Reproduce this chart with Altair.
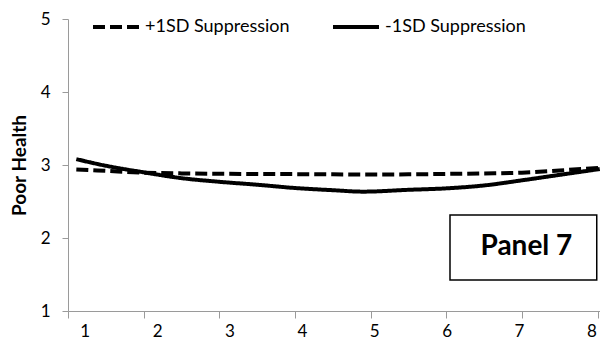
import altair as alt
import pandas as pd

# ---- data ----
x_vals = [1.11, 1.5, 2.0, 2.5, 3.0, 3.5, 4.0, 4.5, 4.9, 5.5, 6.0, 6.5, 7.0, 7.5, 8.03]
plus_sd = [2.94, 2.92, 2.895, 2.885, 2.88, 2.877, 2.875, 2.872, 2.87, 2.872, 2.878, 2.885, 2.895, 2.925, 2.962]
minus_sd = [3.08, 2.99, 2.90, 2.82, 2.77, 2.73, 2.685, 2.655, 2.635, 2.66, 2.68, 2.72, 2.79, 2.865, 2.945]
series_names = ["+1SD Suppression", "-1SD Suppression"]
x_ticks = [1, 2, 3, 4, 5, 6, 7, 8]
y_ticks = [1, 2, 3, 4, 5]
panel_label = "Panel 7"

rows = []
for name, vals in zip(series_names, [plus_sd, minus_sd]):
    for x, v in zip(x_vals, vals):
        rows.append({"x": x, "y": v, "series": name})
df = pd.DataFrame(rows)

FONT = "Lato"
GRAY = "#9a9a9a"

x_scale = alt.Scale(domain=[1, 8.033], nice=False, zero=False)
y_scale = alt.Scale(domain=[1, 5], nice=False, zero=False)

lines = alt.Chart(df).mark_line(
    interpolate="monotone", strokeWidth=4, color="black", strokeCap="butt"
).encode(
    x=alt.X("x:Q", scale=x_scale, axis=alt.Axis(
        values=x_ticks, title=None, grid=False, domainColor=GRAY, tickColor=GRAY,
        tickSize=7, labelFont=FONT, labelFontSize=17, labelColor="black",
        labelPadding=5, labelOffset=alt.ExprRef("16.7 - 3.27*(datum.value-1)"),
        labelFlush=False, format="d")),
    y=alt.Y("y:Q", scale=y_scale, axis=alt.Axis(
        values=y_ticks, title="Poor Health", grid=False, domainColor=GRAY,
        tickColor=GRAY, tickSize=6, labelFont=FONT, labelFontSize=17,
        labelColor="black", labelPadding=12, titleFont=FONT, titleFontSize=19,
        titleFontWeight="bold", titleColor="black", titlePadding=11, format="d")),
    strokeDash=alt.StrokeDash("series:N", scale=alt.Scale(
        domain=series_names, range=[[12, 5], [1, 0]]),
        legend=alt.Legend(
            title=None, orient="none", legendX=23, legendY=-17, direction="horizontal",
            symbolType="stroke", symbolSize=2116, symbolStrokeWidth=4,
            symbolStrokeColor="black", labelFont=FONT, labelFontSize=18,
            labelColor="black", labelOffset=4, columnPadding=35, padding=0)),
)

box_df = pd.DataFrame([{"x": 6.05, "x2": 7.99, "y": 2.315, "y2": 1.425,
                        "tx": 7.06, "ty": 1.87, "label": panel_label}])
box = alt.Chart(box_df).mark_rect(fill="white", stroke="black", strokeWidth=1.5).encode(
    x=alt.X("x:Q", scale=x_scale), x2="x2:Q",
    y=alt.Y("y:Q", scale=y_scale), y2="y2:Q")
box_text = alt.Chart(box_df).mark_text(
    font=FONT, fontSize=28, fontWeight="bold", color="black", baseline="middle", align="center"
).encode(x=alt.X("tx:Q", scale=x_scale), y=alt.Y("ty:Q", scale=y_scale), text="label:N")

chart = alt.layer(lines, box, box_text).properties(
    width=532, height=292,
    autosize=alt.AutoSizeParams(type="none"),
    padding={"left": 60, "top": 11, "right": 0, "bottom": 30},
    background="white",
).configure_view(stroke=None)

chart.save("out.html", embed_options={"renderer": "svg", "actions": False})
